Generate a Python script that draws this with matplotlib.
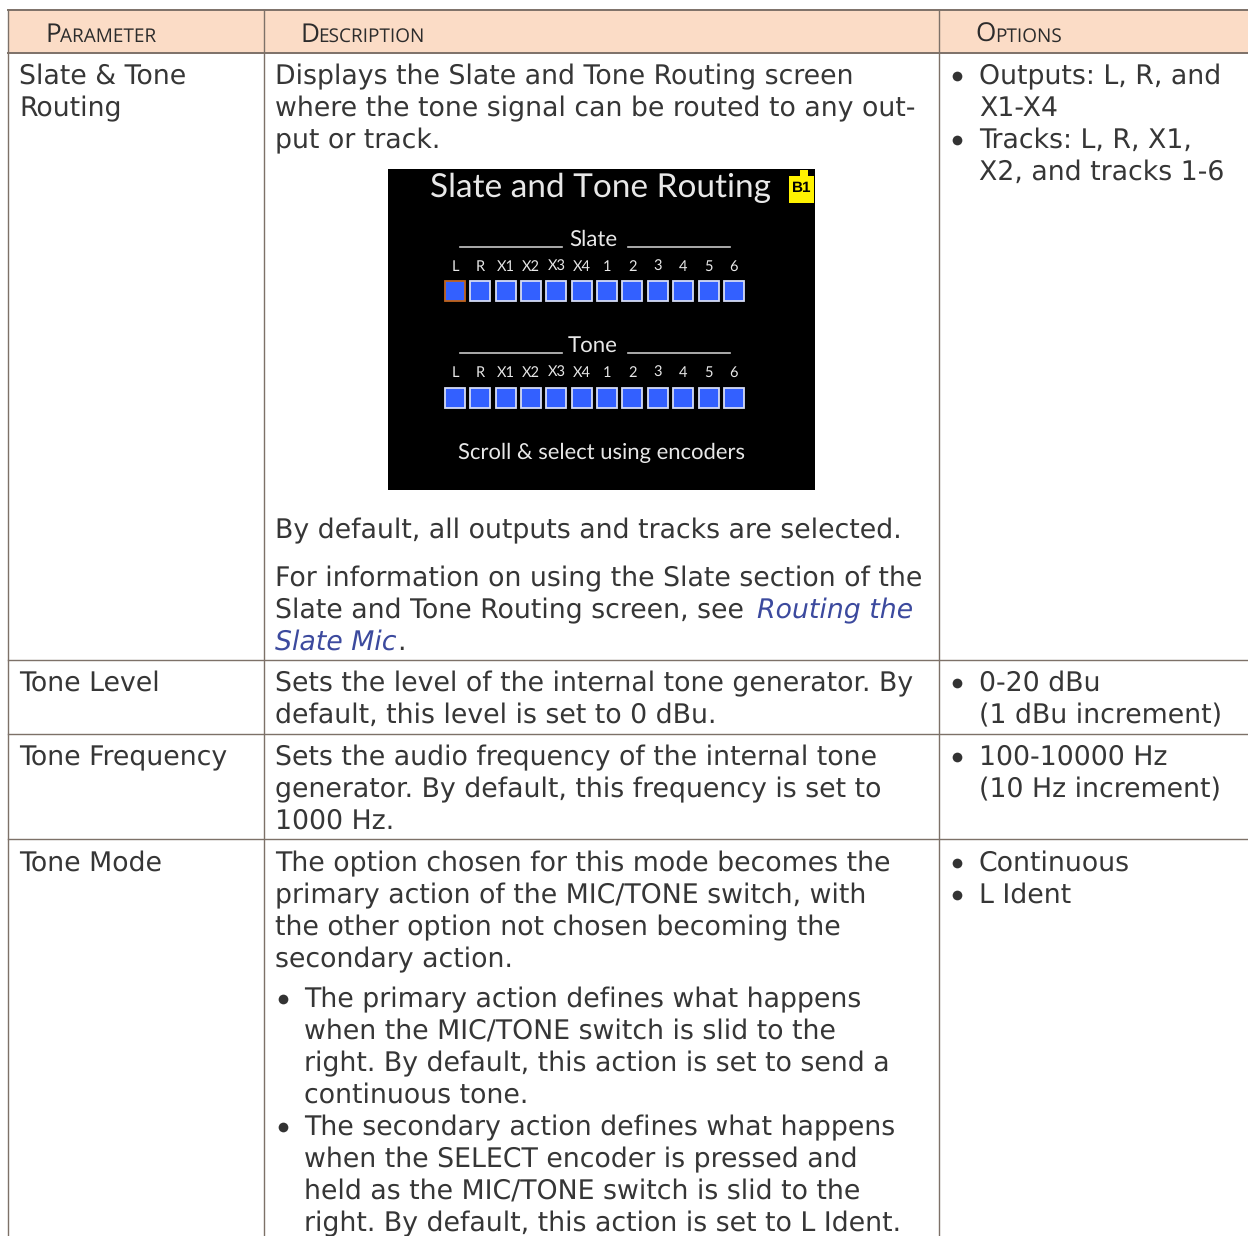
#!/usr/bin/env python3
import matplotlib
matplotlib.use("Agg")
import matplotlib.pyplot as plt
from matplotlib.patches import Rectangle

plt.rcParams["text.hinting"] = "no_hinting"
plt.rcParams["text.hinting_factor"] = 8

txt_col = "#363636"
link_col = "#3c4a9e"
line_col = "#7d7168"
head_col = "#fbdcc6"
blue = "#3360ff"

body_size = 19.3
pitch = 32

header_labels = ["Parameter", "Description", "Options"]
header_x = [45, 300, 975]

# left column: (first baseline, lines)
param_cells = [
    (84, ["Slate & Tone", "Routing"]),
    (691, ["Tone Level"]),
    (765, ["Tone Frequency"]),
    (871, ["Tone Mode"]),
]
desc_cells = [
    (84, ["Displays the Slate and Tone Routing screen",
          "where the tone signal can be routed to any out-",
          "put or track."]),
    (538, ["By default, all outputs and tracks are selected."]),
    (586, ["For information on using the Slate section of the",
           "Slate and Tone Routing screen, see"]),
    (691, ["Sets the level of the internal tone generator. By",
           "default, this level is set to 0 dBu."]),
    (765, ["Sets the audio frequency of the internal tone",
           "generator. By default, this frequency is set to",
           "1000 Hz."]),
    (871, ["The option chosen for this mode becomes the",
           "primary action of the MIC/TONE switch, with",
           "the other option not chosen becoming the",
           "secondary action."]),
]
desc_bullets = [
    (1007, ["The primary action defines what happens",
            "when the MIC/TONE switch is slid to the",
            "right. By default, this action is set to send a",
            "continuous tone."]),
    (1135, ["The secondary action defines what happens",
            "when the SELECT encoder is pressed and",
            "held as the MIC/TONE switch is slid to the",
            "right. By default, this action is set to L Ident."]),
]
option_bullets = [
    (84, ["Outputs: L, R, and", "X1-X4"]),
    (148, ["Tracks: L, R, X1,", "X2, and tracks 1-6"]),
    (691, ["0-20 dBu", "(1 dBu increment)"]),
    (765, ["100-10000 Hz", "(10 Hz increment)"]),
    (871, ["Continuous"]),
    (903, ["L Ident"]),
]

row_lines = [53, 660, 734, 839]
col_lines = [8, 264, 939]
channels = ["L", "R", "X1", "X2", "X3", "X4", "1", "2", "3", "4", "5", "6"]

fig = plt.figure(figsize=(12.48, 12.36), dpi=100)
ax = fig.add_axes([0, 0, 1, 1])
ax.set_xlim(0, 1248)
ax.set_ylim(1236, 0)
ax.axis("off")

# header band and grid
ax.add_patch(Rectangle((8, 10), 1240, 43, fc=head_col, ec="none", zorder=0))
ax.plot([8, 1248], [10, 10], color=line_col, lw=1.4)
for y in row_lines:
    ax.plot([8, 1248], [y, y], color=line_col, lw=1.4 if y == 53 else 1.0)
for x in col_lines:
    ax.plot([x, x], [10, 1236], color=line_col, lw=1.0)


def small_caps(x, y, label):
    big = ax.text(x, y, label[0], fontsize=18.8, family="Open Sans", color="#2c2c2c", va="baseline")
    fig.canvas.draw()
    end = big.get_window_extent().x1
    ax.text(end - 0.5, y, label[1:].upper(), fontsize=13.7, family="Open Sans", color="#2c2c2c", va="baseline")


for lab, x in zip(header_labels, header_x):
    small_caps(x, 42, lab)


def block(x, y, lines):
    for i, s in enumerate(lines):
        ax.text(x, y + i * pitch, s, fontsize=body_size, family="DejaVu Sans", color=txt_col, va="baseline")


def bullet(x, y):
    ax.plot([x], [y - 8], "o", ms=7, color="#333333", mew=0)


for y, lines in param_cells:
    block(19, y, lines)
for y, lines in desc_cells:
    block(275, y, lines)
for y, lines in desc_bullets:
    bullet(283, y)
    block(304, y, lines)
for y, lines in option_bullets:
    bullet(957, y)
    block(979, y, lines)

# the italic link runs
ax.text(757, 618, "Routing the", fontsize=body_size, style="italic", color=link_col, va="baseline")
ax.text(275, 650, "Slate Mic", fontsize=body_size, style="italic", color=link_col, va="baseline")
ax.text(397, 650, ".", fontsize=body_size, color=txt_col, va="baseline")

# embedded device screen
ax.add_patch(Rectangle((388, 169), 427, 321, fc="black", ec="none", zorder=1))
scr = dict(family="Lato", color="#e8e8e8", zorder=3)
ax.text(600.5, 197, "Slate and Tone Routing", fontsize=24, ha="center", va="baseline", **scr)
ax.add_patch(Rectangle((789, 176), 25, 27, fc="#fff200", ec="none", zorder=2))
ax.add_patch(Rectangle((800, 170), 8, 7, fc="#fff200", ec="none", zorder=2))
ax.text(801.5, 188.5, "B1", fontsize=11, weight="bold", family="Liberation Sans", color="black",
        ha="center", va="center", zorder=3)

for name, title_y, label_y, box_y in [("Slate", 246, 271, 281), ("Tone", 352, 377, 388)]:
    ax.text(593, title_y, name, fontsize=16, ha="center", va="baseline", **scr)
    for x0, x1 in [(460, 562), (628, 730)]:
        ax.plot([x0, x1], [title_y + 0.5, title_y + 0.5], color="#c8c8c8", lw=1.2, zorder=3)
    for i, ch in enumerate(channels):
        x = 445 + i * 25.35
        ax.text(x + 10, label_y, ch, fontsize=10.5, ha="center", va="baseline", **scr)
        edge = "#c0641e" if (name == "Slate" and i == 0) else "#d5dcf5"
        ax.add_patch(Rectangle((x, box_y), 20, 20, fc=blue, ec=edge, lw=1.3, zorder=3))

ax.text(601, 459, "Scroll & select using encoders", fontsize=15.8, ha="center", va="baseline", **scr)

fig.savefig("out.png", dpi=100)
